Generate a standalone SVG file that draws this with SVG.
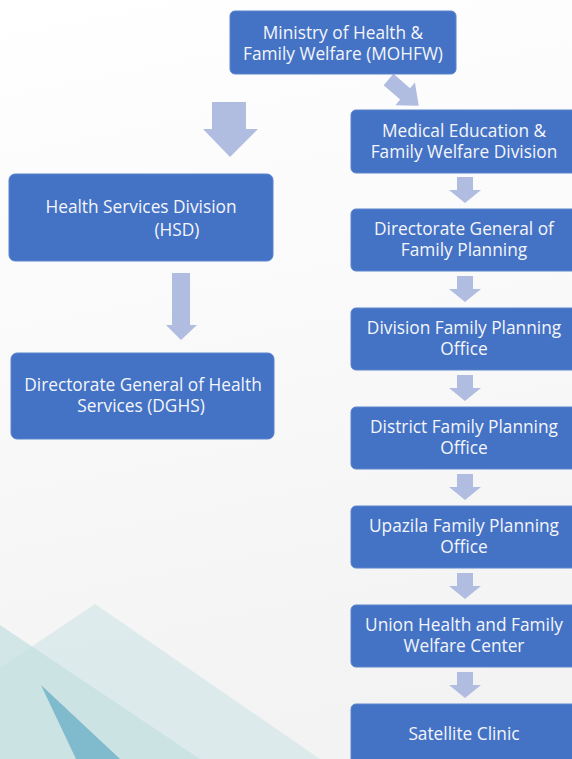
<svg xmlns="http://www.w3.org/2000/svg" width="572" height="759" viewBox="0 0 572 759">
<defs>
<linearGradient id="bg" x1="0" y1="0" x2="0.15" y2="1">
<stop offset="0" stop-color="#ffffff"/>
<stop offset="0.35" stop-color="#fbfbfb"/>
<stop offset="1" stop-color="#f3f3f3"/>
</linearGradient>
<style>
.box{fill:#4472c4;stroke:#5a84cc;stroke-width:1}
.t{font-family:"Open Sans",Lato,"Liberation Sans",sans-serif;font-size:17.3px;fill:#f4f6fb;text-anchor:middle}
.arr{fill:#b0bde0}
</style>
</defs>
<rect width="572" height="759" fill="url(#bg)"/>
<g id="background-shapes">
<polygon points="95,604 320,759 0,759 0,668" fill="#cfe5e6" opacity="0.65"/>
<polygon points="0,625 200,759 0,759" fill="#c4dfe1" opacity="0.7"/>
<polygon points="41,685 120,759 76,759" fill="#7fbacd"/>
</g>
<g id="connectors">
<polygon class="arr" points="212,102 246,102 246,129 258,129 230,157 203,129 212,129"/>
<polygon class="arr" transform="translate(388.5,79.5) rotate(41)" points="0,-7.5 22,-7.5 22,-15 40,0 22,15 22,7.5 0,7.5"/>
<polygon class="arr" points="172,273 190,273 190,325 197,325 181,340 166,325 172,325"/>
<polygon class="arr" points="457,177 473,177 473,190 481,190 465,203 449,190 457,190"/>
<polygon class="arr" points="457,276 473,276 473,289 481,289 465,302 449,289 457,289"/>
<polygon class="arr" points="457,375 473,375 473,388 481,388 465,401 449,388 457,388"/>
<polygon class="arr" points="457,474 473,474 473,487 481,487 465,500 449,487 457,487"/>
<polygon class="arr" points="457,573 473,573 473,586 481,586 465,599 449,586 457,586"/>
<polygon class="arr" points="457,672 473,672 473,685 481,685 465,698 449,685 457,685"/>
</g>
<g id="mohfw">
<rect class="box" x="230" y="11" width="226" height="63" rx="5"/>
<text class="t" x="343" y="39">Ministry of Health &amp;</text>
<text class="t" x="343" y="60">Family Welfare (MOHFW)</text>
</g>
<g id="hsd">
<rect class="box" x="9" y="174" width="264" height="87" rx="6"/>
<text class="t" x="141" y="213">Health Services Division</text>
<text class="t" x="177" y="236">(HSD)</text>
</g>
<g id="dghs">
<rect class="box" x="11" y="353" width="263" height="86" rx="6"/>
<text class="t" x="143" y="391">Directorate General of Health</text>
<text class="t" x="141" y="412">Services (DGHS)</text>
</g>
<g id="medical-education">
<rect class="box" x="351" y="110" width="226" height="63" rx="5"/>
<text class="t" x="464" y="137">Medical Education &amp;</text>
<text class="t" x="464" y="158">Family Welfare Division</text>
</g>
<g id="dgfp">
<rect class="box" x="351" y="209" width="226" height="62" rx="5"/>
<text class="t" x="464" y="235">Directorate General of</text>
<text class="t" x="464" y="256">Family Planning</text>
</g>
<g id="division-fp">
<rect class="box" x="351" y="308" width="226" height="62" rx="5"/>
<text class="t" x="464" y="334">Division Family Planning</text>
<text class="t" x="464" y="355">Office</text>
</g>
<g id="district-fp">
<rect class="box" x="351" y="407" width="226" height="62" rx="5"/>
<text class="t" x="464" y="433">District Family Planning</text>
<text class="t" x="464" y="454">Office</text>
</g>
<g id="upazila-fp">
<rect class="box" x="351" y="506" width="226" height="62" rx="5"/>
<text class="t" x="464" y="532">Upazila Family Planning</text>
<text class="t" x="464" y="553">Office</text>
</g>
<g id="union-center">
<rect class="box" x="351" y="605" width="226" height="62" rx="5"/>
<text class="t" x="464" y="631">Union Health and Family</text>
<text class="t" x="464" y="652">Welfare Center</text>
</g>
<g id="satellite-clinic">
<rect class="box" x="351" y="704" width="226" height="62" rx="5"/>
<text class="t" x="464" y="740">Satellite Clinic</text>
</g>
</svg>
